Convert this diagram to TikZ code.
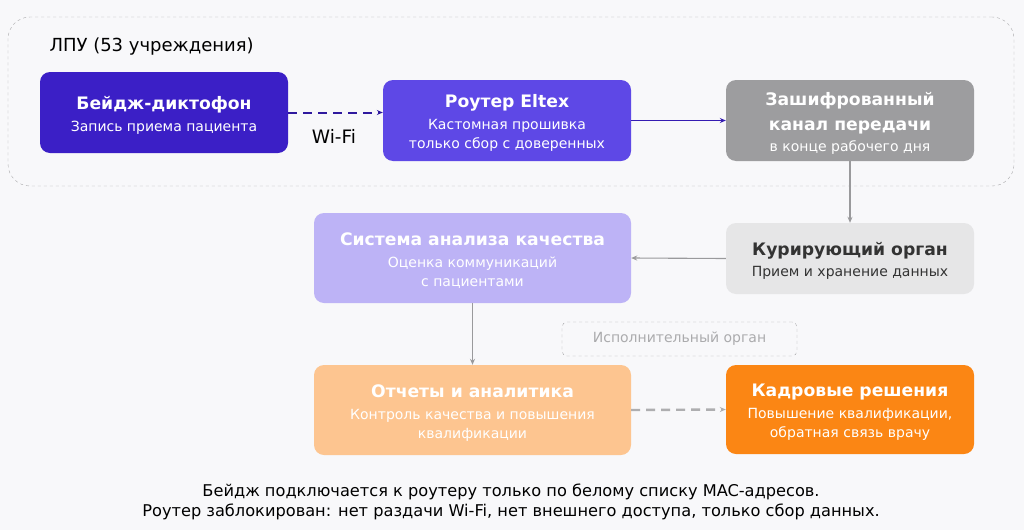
\documentclass[tikz,border=0pt]{standalone}
\usepackage{fontspec}
\setmainfont{DejaVu Sans}
\usetikzlibrary{positioning,arrows.meta}

\definecolor{bgcol}{HTML}{F8F8FA}
\definecolor{badgecol}{HTML}{3B1FC6}
\definecolor{routercol}{HTML}{5E48E6}
\definecolor{channelcol}{HTML}{9D9D9F}
\definecolor{qualitycol}{HTML}{BDB3F6}
\definecolor{curatorcol}{HTML}{E6E6E7}
\definecolor{reportcol}{HTML}{FDC590}
\definecolor{hrcol}{HTML}{FB8614}
\definecolor{linecol}{HTML}{9A9A9C}
\definecolor{framecol}{HTML}{ABABAD}

\newcommand{\btitle}[1]{{\bfseries\fontsize{17.2}{19}\selectfont\rule{0pt}{18pt}#1}}

\begin{document}
\begin{tikzpicture}[x=1pt,y=-1pt,
  card/.style={rounded corners=10pt, align=center, inner sep=0pt,
    minimum width=248pt, minimum height=81pt, text=white,
    font=\fontsize{14}{19}\selectfont},
  wide/.style={card, minimum width=317pt, minimum height=90pt},
  link/.style={draw=linecol, line width=1.1pt, -{Stealth[length=6pt,width=5pt]}},
  dashlink/.style={link, line width=2pt, dash pattern=on 9pt off 6pt}]

  \fill[bgcol] (0,0) rectangle (1024,530);
  \useasboundingbox (0,0) rectangle (1024,530);

  % ЛПУ
  \node[draw=framecol, dashed, rounded corners=22pt, minimum width=1006pt,
    minimum height=169pt] (lpu) at (511,101.5) {};
  \node[anchor=west, font=\fontsize{18}{20}\selectfont] (lpulabel) at (46,47) {ЛПУ (53 учреждения)};

  \node[card, fill=badgecol] (badge) at (164,112.5)
    {\btitle{Бейдж-диктофон}\\[3pt]Запись приема пациента};
  \node[card, fill=routercol] (router) at (507,120.5)
    {\btitle{Роутер Eltex}\\[3pt]Кастомная прошивка\\только сбор с доверенных};
  \node[card, fill=channelcol] (channel) at (850,120.5)
    {\btitle{Зашифрованный}\\[6pt]{\bfseries\fontsize{17.2}{19}\selectfont канал передачи}\\[2pt]в конце рабочего дня};

  \node[wide, fill=qualitycol] (quality) at (472.5,258)
    {\btitle{Система анализа качества}\\[3pt]Оценка коммуникаций\\с пациентами};
  \node[card, fill=curatorcol, text=black!80, minimum height=71pt] (curator) at (850,258.5)
    {\btitle{Курирующий орган}\\[2pt]Прием и хранение данных};

  \node[draw=framecol, dashed, rounded corners=5pt, minimum width=235pt,
    minimum height=34pt, text=framecol, font=\fontsize{14}{16}\selectfont] (exec) at (679.5,339)
    {Исполнительный орган};

  \node[wide, fill=reportcol] (reports) at (472.5,410)
    {\btitle{Отчеты и аналитика}\\[3pt]Контроль качества и повышения\\квалификации};
  \node[card, fill=hrcol, minimum height=89pt] (hr) at (850,409.5)
    {\btitle{Кадровые решения}\\[3pt]Повышение квалификации,\\обратная связь врачу};

  % связи
  \draw[dashlink, draw=badgecol!80!black] (badge.east) -- (badge.east -| router.west);
  \node[font=\fontsize{18.5}{20}\selectfont] (wifi) at (334,136) {Wi-Fi};
  \draw[link, draw=badgecol!90!black] (router.east) -- (channel.west);
  \draw[link] (channel.south) -- (curator.north);
  \draw[link] (curator.west) -- (quality.east);
  \draw[link] (quality.south) -- (reports.north);
  \draw[dashlink, line width=2.4pt, draw=linecol!80] (reports.east) -- (hr.west);

  \node[align=center, font=\fontsize{16.2}{20}\selectfont] (note) at (511,502)
    {Бейдж подключается к роутеру только по белому списку MAC-адресов.\\
     Роутер заблокирован: нет раздачи Wi-Fi, нет внешнего доступа, только сбор данных.};
\end{tikzpicture}
\end{document}
